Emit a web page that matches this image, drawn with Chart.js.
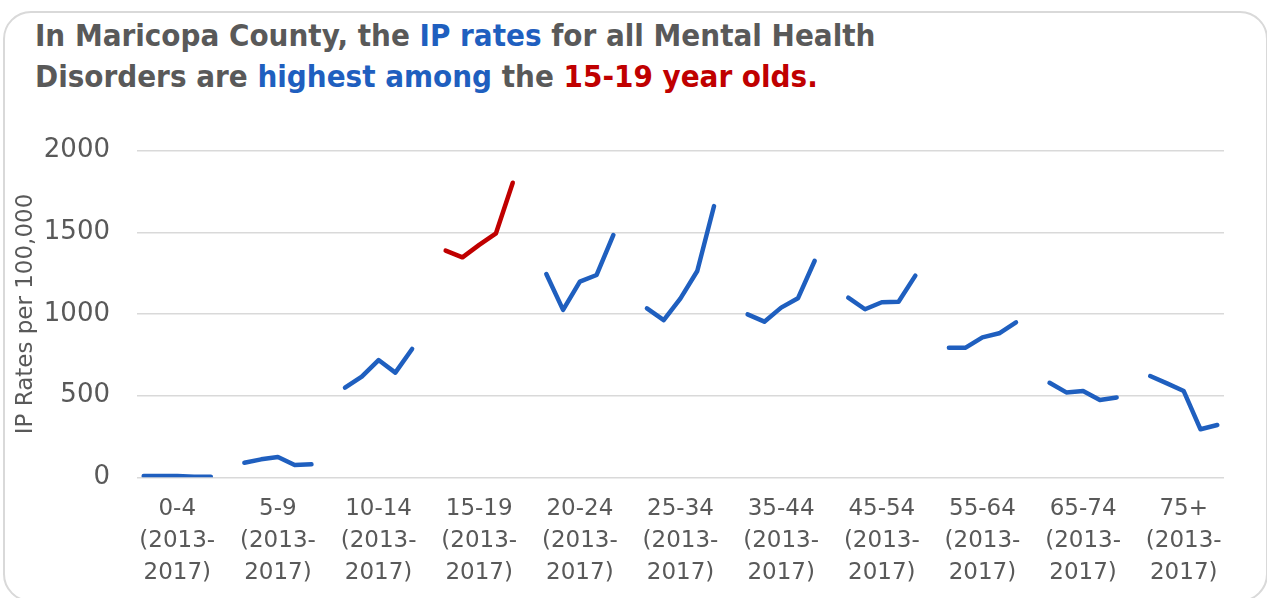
<!DOCTYPE html>
<html>
<head>
<meta charset="utf-8">
<title>IP rates - Maricopa County</title>
<script src="https://cdn.jsdelivr.net/npm/chart.js@4.4.1/dist/chart.umd.min.js"></script>
<style>
  body { margin: 0; background: #fff; width: 1267px; height: 598px; overflow: hidden; position: relative; }
  #frame { position: absolute; left: 3px; top: 11px; width: 1261px; height: 587px; border: 2px solid #d9d9d9; border-radius: 28px; }
  #title { position: absolute; left: 35px; top: 15px; font-family: "DejaVu Sans Condensed", "DejaVu Sans"; font-weight: bold; font-size: 31px; line-height: 41px; color: #595959; white-space: nowrap; }
  .blue { color: #1f5fbf; }
  .red { color: #c00000; }
  canvas { position: absolute; left: 0; top: 0; }
</style>
</head>
<body>
<div id="frame"></div>
<div id="title">
  In Maricopa County, the <span class="blue">IP rates</span> for all Mental Health<br>
  Disorders are <span class="blue">highest among</span> the <span class="red">15-19 year olds.</span>
</div>
<canvas id="chart" width="1267" height="598"></canvas>
<script>
// age groups, each measured 2013 to 2017
const ageGroups = ["0-4", "5-9", "10-14", "15-19", "20-24", "25-34", "35-44", "45-54", "55-64", "65-74", "75+"];
const yearRange = ["(2013-", "2017)"];
const years = [2013, 2014, 2015, 2016, 2017];
const yTicks = [0, 500, 1000, 1500, 2000];

// IP rates per 100,000
const rates0to4 = [8, 8, 8, 3, 3];
const rates5to9 = [89, 110, 124, 75, 80];
const rates10to14 = [549, 616, 718, 641, 786];
const rates15to19 = [1388, 1347, 1423, 1494, 1804];
const rates20to24 = [1245, 1025, 1198, 1239, 1484];
const rates25to34 = [1035, 963, 1096, 1263, 1661];
const rates35to44 = [998, 953, 1039, 1096, 1326];
const rates45to54 = [1100, 1029, 1072, 1075, 1235];
const rates55to64 = [794, 794, 857, 882, 949];
const rates65to74 = [579, 520, 528, 473, 489];
const rates75plus = [620, 575, 528, 294, 320];

const groupRates = [rates0to4, rates5to9, rates10to14, rates15to19, rates20to24, rates25to34,
  rates35to44, rates45to54, rates55to64, rates65to74, rates75plus];

const highlightGroup = "15-19";
const blue = "#1f5fbf";
const red = "#c00000";
const grey = "#595959";

// 5 years + one empty slot between groups
const slotsPerGroup = years.length + 1;

const datasets = ageGroups.map((g, gi) => ({
  label: g,
  data: groupRates[gi].map((v, j) => ({ x: gi * slotsPerGroup + j, y: v })),
  borderColor: g === highlightGroup ? red : blue,
  borderWidth: 4.5,
  borderCapStyle: "round",
  borderJoinStyle: "round",
  pointRadius: 0,
  tension: 0,
  fill: false
}));

new Chart(document.getElementById("chart").getContext("2d"), {
  type: "line",
  data: { datasets: datasets },
  options: {
    responsive: false,
    animation: false,
    layout: { padding: { top: 150.7, right: 43, left: 0, bottom: 0 } },
    plugins: {
      legend: { display: false },
      tooltip: { enabled: false }
    },
    scales: {
      x: {
        type: "linear",
        min: -0.4,
        max: ageGroups.length * slotsPerGroup - 1.6,
        grid: { display: false, drawTicks: false },
        border: { display: false },
        afterBuildTicks: (scale) => {
          scale.ticks = ageGroups.map((_, gi) => ({ value: gi * slotsPerGroup + 2 }));
        },
        afterFit: (scale) => { scale.height = 120.7; },
        ticks: {
          autoSkip: false,
          maxRotation: 0,
          padding: 16,
          color: grey,
          font: { family: "DejaVu Sans", size: 23, lineHeight: 1.39 },
          callback: (value) => [ageGroups[Math.round((value - 2) / slotsPerGroup)], ...yearRange]
        }
      },
      y: {
        min: 0,
        max: 2000,
        afterBuildTicks: (scale) => { scale.ticks = yTicks.map(v => ({ value: v })); },
        afterFit: (scale) => { scale.width = 137; },
        grid: { color: "#d9d9d9", lineWidth: 1.5, drawTicks: false },
        border: { display: false },
        ticks: {
          padding: 27,
          color: grey,
          font: { family: "DejaVu Sans", size: 26 },
          callback: (value) => String(value)
        },
        title: {
          display: true,
          text: "IP Rates per 100,000",
          color: grey,
          padding: { top: 12, bottom: 0 },
          font: { family: "DejaVu Sans", size: 23 }
        }
      }
    }
  }
});
</script>
</body>
</html>
